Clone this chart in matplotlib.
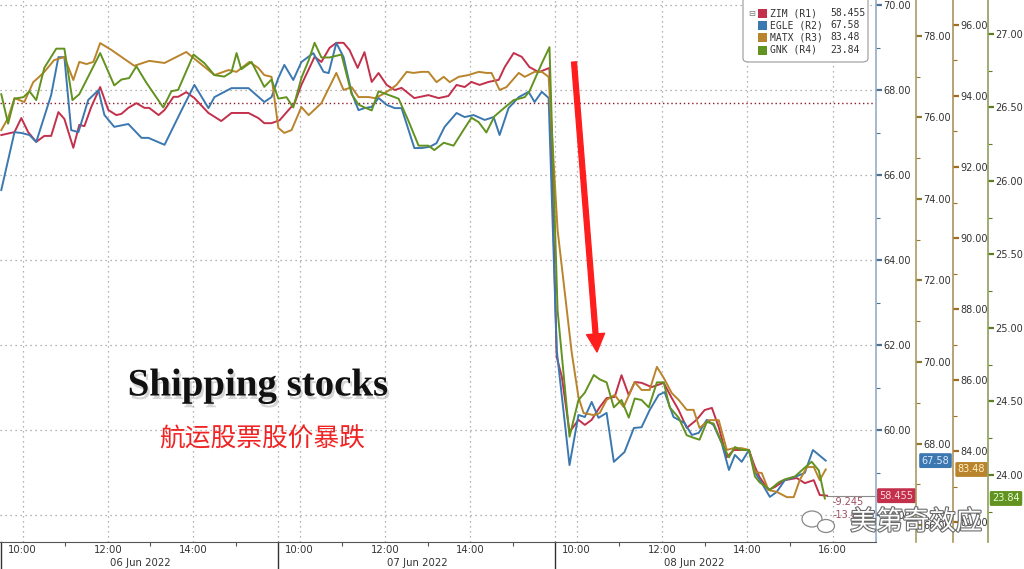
import matplotlib
matplotlib.use("Agg")
import matplotlib.pyplot as plt
import matplotlib.patheffects as pe
import matplotlib.transforms as mtransforms
from matplotlib.patches import FancyBboxPatch, Rectangle, Ellipse
from matplotlib.ticker import MultipleLocator, FixedLocator, FormatStrFormatter, NullFormatter

plt.rcParams['font.family'] = ['DejaVu Sans', 'Noto Sans CJK SC']

# ---------------- data (x = trading hours since 06 Jun 09:30, 6.5 h per session) ----------------
tickers = ["ZIM", "EGLE", "MATX", "GNK"]
axis_tags = ["R1", "R2", "R3", "R4"]
day_labels = ["06 Jun 2022", "07 Jun 2022", "08 Jun 2022"]
session_hours = 6.5
zim_prev_close = 67.70

zim_x = [0.00, 0.31, 0.47, 0.63, 0.82, 1.01, 1.17, 1.34, 1.48, 1.69, 1.83, 1.95, 2.11, 2.32, 2.51, 2.70, 2.82,
         2.98, 3.17, 3.36, 3.47, 3.69, 3.83, 4.04, 4.15, 4.34, 4.53, 4.86, 5.16, 5.40, 5.80, 6.03, 6.17, 6.34,
         6.53, 6.74, 6.88, 7.04, 7.35, 7.51, 7.70, 7.86, 8.03, 8.17, 8.36, 8.52, 8.69, 8.85, 9.04, 9.23, 9.39,
         9.69, 10.02, 10.26, 10.49, 10.68, 10.87, 11.03, 11.22, 11.43, 11.67, 11.81, 12.02, 12.21, 12.39, 12.61, 12.86,
         13.03, 13.15, 13.33, 13.54, 13.69, 13.85, 14.04, 14.20, 14.39, 14.55, 14.72, 14.86, 15.02, 15.26, 15.54,
         15.73, 15.89, 16.08, 16.31, 16.50, 16.67, 16.83, 17.02, 17.18, 17.37, 17.54, 17.68, 17.79, 18.00, 18.15,
         18.38, 18.66, 18.85, 19.06, 19.20, 19.37]
zim_y = [66.94, 67.01, 67.34, 67.01, 66.78, 66.92, 66.92, 67.48, 67.32, 66.64, 67.18, 67.15, 67.60, 68.07, 67.53,
         67.41, 67.44, 67.58, 67.69, 67.58, 67.58, 67.41, 67.53, 67.84, 67.84, 67.95, 67.81, 67.46, 67.27, 67.46,
         67.46, 67.34, 67.22, 67.22,
         67.29, 67.53, 67.69, 68.12, 68.78, 68.66, 68.99, 69.11, 69.11, 68.94, 68.52, 68.89, 68.19, 68.40, 68.12,
         68.00, 68.05, 67.81, 67.88, 67.81, 67.86, 68.12, 68.07, 68.19, 68.12, 68.19, 68.24, 68.54, 68.87, 68.78,
         68.54, 68.42, 68.52,
         61.72, 61.25, 59.95, 60.24, 60.12, 60.24, 60.54, 60.75, 60.78, 61.29, 60.82, 61.13, 61.11, 61.01, 61.11,
         60.75, 60.47, 60.05, 60.24, 60.47, 60.52, 60.07, 59.36, 59.53, 59.53, 59.53, 59.13, 58.89, 58.59, 58.66,
         58.82, 58.87, 58.75, 58.82, 58.47, 58.455]

egle_x = [0.00, 0.31, 0.47, 0.66, 0.82, 1.17, 1.34, 1.48, 1.64, 1.81, 2.04, 2.28, 2.42, 2.65, 2.98, 3.29, 3.45,
          3.83, 4.23, 4.53, 4.86, 5.00, 5.40, 5.80, 6.17, 6.34,
          6.50, 6.64, 6.85, 7.04, 7.32, 7.56, 7.68, 7.86, 8.03, 8.22, 8.38, 8.52, 8.69, 8.85, 9.04, 9.23, 9.39,
          9.69, 9.86, 10.05, 10.21, 10.40, 10.68, 10.87, 11.08, 11.34, 11.55, 11.69, 11.90, 12.14, 12.37, 12.51,
          12.68, 12.84,
          13.03, 13.33, 13.54, 13.69, 13.85, 14.01, 14.20, 14.37, 14.62, 14.84, 15.02, 15.21, 15.42, 15.56, 15.77,
          16.03, 16.20, 16.36, 16.55, 16.71, 16.90, 17.07, 17.21, 17.37, 17.54, 17.68, 17.84, 18.03, 18.19, 18.38,
          18.62, 18.85, 19.04, 19.18, 19.34]
egle_y = [74.22, 75.64, 75.62, 75.57, 75.40, 76.55, 77.48, 77.48, 75.69, 75.64, 76.43, 76.67, 76.06, 75.77, 75.84,
          75.50, 75.50, 75.33, 76.18, 76.80, 76.23, 76.50, 76.72, 76.72, 76.38, 76.50,
          76.97, 77.29, 76.92, 77.36, 77.58, 77.12, 77.09, 77.83, 77.48, 76.60, 76.18, 76.23, 76.26, 76.48, 76.31,
          76.23, 76.23, 75.25, 75.25, 75.28, 75.37, 75.77, 76.11, 76.01, 76.06, 75.94, 76.01, 75.57, 76.23, 76.50,
          76.63, 76.38, 76.63, 76.48,
          70.29, 67.47, 68.70, 68.65, 69.02, 68.63, 68.75, 67.55, 67.79, 68.38, 68.40, 68.82, 69.19, 69.26, 68.65,
          68.50, 68.21, 68.26, 68.58, 68.45, 68.01, 67.35, 67.72, 67.55, 67.84, 67.30, 67.03, 66.69, 66.81, 67.10,
          67.18, 67.28, 67.84, 67.72, 67.58]

matx_x = [0.00, 0.16, 0.31, 0.54, 0.75, 0.89, 1.01, 1.24, 1.48, 1.69, 1.83, 2.00, 2.16, 2.32, 2.58, 3.12, 3.47,
          3.83, 4.06, 4.34, 4.51, 4.86, 5.00, 5.33, 5.52, 5.82, 6.03, 6.17, 6.34,
          6.50, 6.64, 6.81, 7.04, 7.21, 7.51, 7.86, 8.03, 8.22, 8.38, 8.62, 8.76, 8.92, 9.11, 9.27, 9.51, 9.67,
          9.86, 10.02, 10.21, 10.38, 10.52, 10.73, 10.96, 11.20, 11.38, 11.50, 11.69, 11.85, 12.14, 12.28, 12.51,
          12.68, 12.84,
          13.05, 13.38, 13.54, 13.66, 13.90, 14.04, 14.20, 14.39, 14.60, 14.86, 15.02, 15.21, 15.38, 15.54, 15.73,
          15.89, 16.08, 16.24, 16.38, 16.60, 16.83, 17.02, 17.18, 17.37, 17.54, 17.68, 17.84, 18.00, 18.19, 18.43,
          18.59, 18.73, 18.90, 19.06, 19.20, 19.34]
matx_y = [93.04, 93.38, 93.94, 93.83, 94.39, 94.54, 94.68, 95.01, 95.10, 94.45, 94.96, 94.90, 94.96, 95.49, 95.30,
          94.85, 94.99, 94.93, 95.07, 95.24, 95.07, 94.73, 94.59, 94.73, 94.68, 94.96, 94.79, 94.59, 94.54,
          93.10, 92.96, 93.04, 93.69, 93.46, 93.80, 94.65, 94.17, 94.25, 93.97, 93.97, 93.94, 94.03, 94.17, 94.31,
          94.68, 94.65, 94.68, 94.68, 94.39, 94.54, 94.39, 94.54, 94.59, 94.68, 94.65, 94.65, 94.17, 94.25, 94.65,
          94.54, 94.68, 94.68, 94.54,
          90.23, 86.79, 85.52, 85.07, 85.01, 85.07, 85.44, 85.58, 85.24, 85.94, 85.72, 85.72, 86.37, 86.06, 85.63,
          85.44, 85.16, 85.16, 84.65, 84.87, 84.87, 84.03, 84.08, 84.08, 84.03, 83.41, 83.38, 82.90, 82.85, 82.70,
          82.70, 83.18, 83.55, 83.55, 83.18, 83.48]

gnk_x = [0.00, 0.16, 0.31, 0.52, 0.66, 0.82, 1.01, 1.29, 1.48, 1.67, 1.83, 2.32, 2.65, 2.82, 3.00, 3.17, 3.40,
         3.80, 3.99, 4.15, 4.51, 4.77, 5.00, 5.23, 5.40, 5.52, 5.63, 5.87, 6.17, 6.34,
         6.50, 6.69, 6.85, 7.04, 7.21, 7.35, 7.51, 7.70, 7.98, 8.22, 8.38, 8.52, 8.69, 8.85, 9.04, 9.32, 9.55,
         9.79, 10.02, 10.16, 10.38, 10.61, 10.85, 11.03, 11.20, 11.38, 11.57, 11.81, 12.02, 12.28, 12.39, 12.68,
         12.86,
         13.05, 13.33, 13.54, 13.69, 13.90, 14.04, 14.20, 14.37, 14.55, 14.72, 14.86, 15.02, 15.19, 15.38, 15.54,
         15.68, 15.89, 16.08, 16.27, 16.38, 16.55, 16.71, 16.90, 17.07, 17.21, 17.37, 17.54, 17.68, 17.79, 18.03,
         18.24, 18.38, 18.62, 18.85, 19.01, 19.18, 19.32]
gnk_y = [26.59, 26.39, 26.56, 26.57, 26.61, 26.55, 26.77, 26.90, 26.90, 26.55, 26.59, 26.87, 26.65, 26.69, 26.70,
         26.78, 26.67, 26.50, 26.61, 26.62, 26.86, 26.80, 26.72, 26.71, 26.74, 26.87, 26.76, 26.81, 26.64, 26.69,
         26.56, 26.57, 26.50, 26.70, 26.82, 26.94, 26.84, 26.84, 26.86, 26.59, 26.52, 26.50, 26.48, 26.61, 26.59,
         26.56, 26.41, 26.24, 26.24, 26.21, 26.26, 26.24, 26.35, 26.43, 26.40, 26.33, 26.44, 26.50, 26.55, 26.57,
         26.61, 26.80, 26.91,
         25.12, 24.26, 24.51, 24.56, 24.68, 24.65, 24.63, 24.46, 24.51, 24.39, 24.52, 24.51, 24.46, 24.63, 24.63,
         24.46, 24.39, 24.27, 24.25, 24.24, 24.36, 24.35, 24.22, 24.12, 24.19, 24.17, 24.17, 23.99, 23.95, 23.90,
         23.95, 23.97, 23.99, 24.05, 24.09, 24.03, 23.84]

value_decimals = [3, 2, 2, 2]
title_en = "Shipping stocks"
title_cn = "航运股票股价暴跌"
watermark = "美第奇效应"

# ---------------- style ----------------
W, H = 1024, 569
line_colors = ["#c3304b", "#3c78b0", "#b9842c", "#62921f"]
tag_text_colors = ["#ffd6de", "#dce9ff", "#fff1c8", "#e6ffd6"]
spine_colors = ["#94aec8", "#ab9c62", "#aa925c", "#8f9f5c"]
tick_colors = ["#4d7095", "#8c7a30", "#a36b22", "#5d7d22"]
ylims = [(57.365, 70.118), (65.583, 78.883), (81.437, 96.704), (23.544, 27.231)]
major_steps = [2.0, 2.0, 2.0, 0.5]
spine_px = [876, 916, 953, 988]
tag_px = [(878, 915), (919, 952), (955, 988), (990, 1022)]

fig = plt.figure(figsize=(W / 100, H / 100), dpi=100)
ax_left, ax_bottom = 0.0, 1 - 542 / H
ax_w, ax_h = 876 / W, 542 / H
ax = fig.add_axes([ax_left, ax_bottom, ax_w, ax_h])
axes = [ax, ax.twinx(), ax.twinx(), ax.twinx()]

xs = [zim_x, egle_x, matx_x, gnk_x]
ys = [zim_y, egle_y, matx_y, gnk_y]

ax.set_xlim(-0.03, 20.52)

# x gridlines & ticks
grid_x = []
major_x, major_lab, minor_x = [], [], []
for d in range(3):
    base = d * session_hours
    grid_x.append(base)
    for hr in (10, 12, 14):
        major_x.append(base + hr - 9.5)
        major_lab.append(f"{hr}:00")
        grid_x.append(base + hr - 9.5)
    for hr in (11, 13, 15):
        minor_x.append(base + hr - 9.5)
major_x.append(2 * session_hours + 16 - 9.5)
major_lab.append("16:00")
grid_x.append(2 * session_hours + 16 - 9.5)

for gx in grid_x:
    if gx > 0:
        ax.axvline(gx, color="#9a9a9a", lw=0.9, ls=(0, (1, 3)), zorder=0)

ax.xaxis.set_major_locator(FixedLocator(major_x))
ax.set_xticklabels(major_lab)
ax.xaxis.set_minor_locator(FixedLocator(minor_x))
ax.tick_params(axis="x", which="major", length=0, pad=2, labelsize=7.3, labelcolor="#333333")
ax.tick_params(axis="x", which="minor", length=3, width=0.8, direction="out", color="#555555")

trans_xa = mtransforms.blended_transform_factory(ax.transData, ax.transAxes)
for d in range(3):
    ax.text(d * session_hours + session_hours / 2, -0.039, day_labels[d], transform=trans_xa,
            ha="center", va="center", fontsize=7.3, color="#333333")
for d in range(3):
    ax.plot([d * session_hours, d * session_hours], [0, -0.06], transform=trans_xa,
            color="#333333", lw=1.0, clip_on=False)

# previous close line
ax.axhline(zim_prev_close, color="#8b1c30", lw=1.0, ls=(0, (1, 2)), zorder=1)

for i, a in enumerate(axes):
    a.set_ylim(*ylims[i])
    a.plot(xs[i], ys[i], color=line_colors[i], lw=1.4, zorder=3)
    a.yaxis.set_major_locator(MultipleLocator(major_steps[i]))
    a.yaxis.set_minor_locator(MultipleLocator(major_steps[i] / 2))
    a.yaxis.set_major_formatter(FormatStrFormatter("%.2f"))
    a.yaxis.set_minor_formatter(NullFormatter())
    a.yaxis.tick_right()
    a.tick_params(axis="y", which="major", direction="out", length=4, width=1.6, pad=1.5,
                  color=tick_colors[i], labelsize=7, labelcolor="#333333")
    a.tick_params(axis="y", which="minor", direction="out", length=3, width=0.8, color=tick_colors[i])
    for s in ("top", "left", "bottom"):
        a.spines[s].set_visible(i == 0 and s == "bottom")
    a.spines["right"].set_color(spine_colors[i])
    a.spines["right"].set_linewidth(1.2)
    if i > 0:
        a.spines["right"].set_position(("axes", spine_px[i] / 876))
        a.patch.set_visible(False)

ax.spines["bottom"].set_color("#555555")
ax.yaxis.grid(True, which="major", color="#9a9a9a", lw=0.9, ls=(0, (1, 3)), zorder=0)
ax.set_axisbelow(True)

# last value tags
for i, a in enumerate(axes):
    last = ys[i][-1]
    tr = mtransforms.blended_transform_factory(ax.transAxes, a.transData)
    cx = (tag_px[i][0] + tag_px[i][1]) / 2 / 876
    a.text(cx, last, f"{last:.{value_decimals[i]}f}", transform=tr, ha="center", va="center",
           fontsize=7, color=tag_text_colors[i], clip_on=False, zorder=10,
           bbox=dict(boxstyle="round,pad=0.25,rounding_size=0.15", fc=line_colors[i], ec="none"))

# connector from ZIM last point to its tag + change text
top = axes[3]
ax.plot([zim_x[-1], 20.52], [zim_y[-1], zim_y[-1]], color="#8a8a8a", lw=0.8, zorder=2, clip_on=False)
chg = zim_y[-1] - zim_prev_close
pct = chg / zim_prev_close * 100
top.text(833 / 876, 1 - 502 / 542, f"{chg:.3f}", transform=top.transAxes, fontsize=7,
         color="#9c4f62", ha="left", va="center", zorder=11)
top.text(833 / 876, 1 - 515 / 542, f"{pct:.2f}%", transform=top.transAxes, fontsize=7,
         color="#9c4f62", ha="left", va="center", zorder=11)

# red arrow
top.annotate("", xy=(597 / 876, 1 - 352 / 542), xytext=(574 / 876, 1 - 62 / 542),
             xycoords="axes fraction", textcoords="axes fraction",
             arrowprops=dict(arrowstyle="simple,head_width=1.3,head_length=1.3,tail_width=0.35",
                             color="#ff1e1e", mutation_scale=10, shrinkA=0, shrinkB=0), zorder=12)

# titles
top.text(258 / 876, 1 - 386 / 542, title_en, transform=top.transAxes, ha="center", va="center",
         fontsize=28, fontweight="bold", family="Liberation Serif", color="#111111", zorder=12,
         path_effects=[pe.withSimplePatchShadow(offset=(1.5, -2.5), shadow_rgbFace="#777777", alpha=0.3)])
top.text(262 / 876, 1 - 440 / 542, title_cn, transform=top.transAxes, ha="center", va="center",
         fontsize=18.5, family="Noto Sans CJK SC", color="#f02424", zorder=12)

# legend box
fig.add_artist(FancyBboxPatch((743 / W, 1 - 62 / H), 125 / W, 70 / H,
                              boxstyle="round,pad=0,rounding_size=0.006", transform=fig.transFigure,
                              fc="white", ec="#9a9a9a", lw=0.8, zorder=20))
fig.text(752 / W, 1 - 13 / H, "⊟", fontsize=6, color="#777777", ha="center", va="center", zorder=21)
row_y = [13, 25, 37, 50]
for i in range(4):
    yy = 1 - row_y[i] / H
    fig.add_artist(Rectangle((758 / W, yy - 4.5 / H), 9 / W, 9 / H, transform=fig.transFigure,
                             fc=line_colors[i], ec="none", zorder=21))
    fig.text(770 / W, yy, f"{tickers[i]} ({axis_tags[i]})", fontsize=7, family="DejaVu Sans Mono",
             color="#333333", ha="left", va="center", zorder=21)
    fig.text(830 / W, yy, f"{ys[i][-1]:.{value_decimals[i]}f}", fontsize=7, family="DejaVu Sans Mono",
             color="#333333", ha="left", va="center", zorder=21)

# watermark
fig.add_artist(Ellipse((812 / W, 1 - 519 / H), 20 / W, 16 / H, transform=fig.transFigure,
                       fc="white", ec="#888888", lw=0.9, zorder=22))
fig.add_artist(Ellipse((826 / W, 1 - 526 / H), 17 / W, 13 / H, transform=fig.transFigure,
                       fc="white", ec="#888888", lw=0.9, zorder=22))
fig.text(916 / W, 1 - 522 / H, watermark, fontsize=19, family="Noto Sans CJK SC", color="white",
         ha="center", va="center", zorder=23,
         path_effects=[pe.withStroke(linewidth=1.6, foreground="#6a6a6a")])

fig.savefig("out.png", dpi=100)
